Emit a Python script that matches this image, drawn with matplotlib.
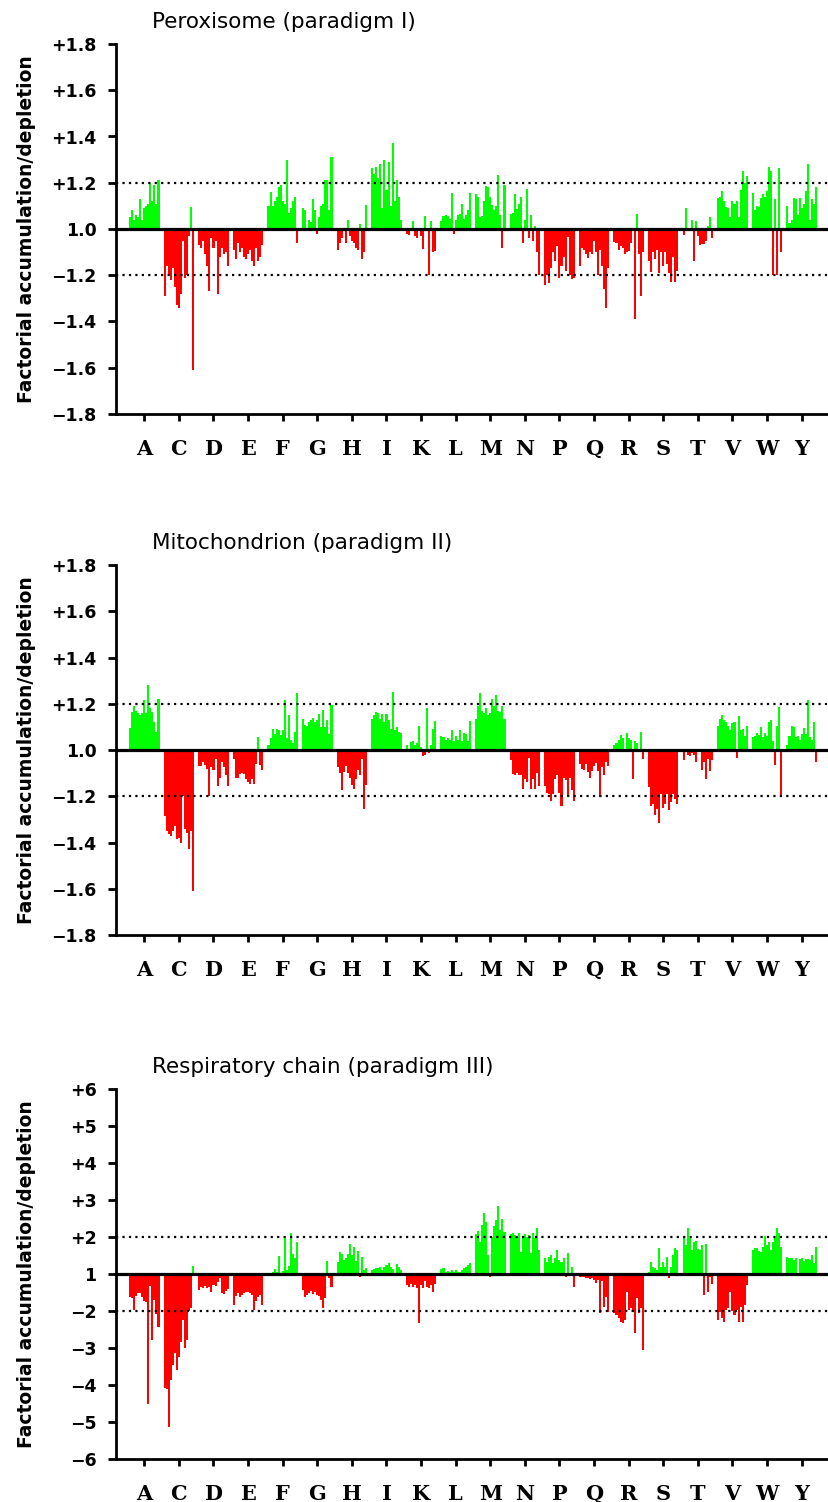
import matplotlib
matplotlib.use("Agg")
import matplotlib.pyplot as plt
import numpy as np

amino = ['A', 'C', 'D', 'E', 'F', 'G', 'H', 'I', 'K', 'L',
         'M', 'N', 'P', 'Q', 'R', 'S', 'T', 'V', 'W', 'Y']

# factorial accumulation (+) / depletion (-), 15 samples per amino acid
perox = [
    [1.05, 1.08, 1.04, 1.06, 1.05, 1.13, 1.04, 1.09, 1.10, 1.11, 1.20, 1.12, 1.19, 1.11, 1.21],
    [-1.29, -1.16, -1.20, -1.22, -1.17, -1.25, -1.33, -1.34, -1.28, -1.05, -1.21, -1.20, -1.03, 1.095, -1.61],
    [-1.07, -1.08, -1.05, -1.11, -1.16, -1.27, -1.04, -1.08, -1.05, -1.28, -1.12, -1.08, -1.11, -1.10, -1.16],
    [-1.09, -1.13, -1.06, -1.10, -1.08, -1.12, -1.13, -1.11, -1.09, -1.14, -1.16, -1.08, -1.14, -1.12, -1.07],
    [1.10, 1.16, 1.10, 1.12, 1.14, 1.18, 1.19, 1.12, 1.11, 1.30, 1.07, 1.09, 1.12, 1.14, -1.06],
    [1.09, 1.08, 1.005, 1.04, 1.03, 1.13, 1.08, -1.02, 1.05, 1.10, 1.11, 1.21, 1.21, 1.08, 1.31],
    [-1.09, -1.06, -1.04, -1.01, -1.06, 1.04, -1.03, -1.05, -1.06, -1.08, -1.09, 1.02, -1.13, -1.10, 1.105],
    [1.265, 1.24, 1.27, 1.22, 1.28, 1.09, 1.30, 1.17, 1.29, 1.10, 1.37, 1.12, 1.21, 1.14, 1.04],
    [-1.02, -1.025, -1.01, 1.035, -1.03, -1.04, 1.005, -1.03, -1.085, 1.055, -1.01, -1.20, 1.035, -1.10, -1.095],
    [1.035, 1.055, 1.06, 1.055, 1.045, 1.155, -1.02, 1.04, 1.06, 1.065, 1.11, 1.045, 1.06, 1.08, 1.155],
    [1.15, 1.14, 1.05, 1.055, 1.12, 1.185, 1.18, 1.14, 1.105, 1.08, 1.10, 1.235, 1.06, -1.08, 1.19],
    [1.065, 1.07, 1.15, 1.085, 1.11, 1.14, -1.06, 1.04, 1.175, -1.04, 1.06, -1.05, 1.015, -1.10, -1.20],
    [-1.24, -1.20, -1.235, -1.17, -1.10, -1.14, -1.075, -1.21, -1.16, -1.12, -1.18, -1.035, -1.20, -1.215, -1.21],
    [-1.16, -1.08, -1.09, -1.11, -1.125, -1.10, -1.11, -1.05, -1.10, -1.20, -1.09, -1.16, -1.26, -1.34, -1.17],
    [-1.055, -1.06, -1.09, -1.075, -1.08, -1.11, -1.10, -1.095, -1.06, -1.01, -1.39, 1.065, -1.11, -1.29, -1.10],
    [-1.14, -1.185, -1.10, -1.13, -1.09, -1.19, -1.10, -1.16, -1.10, -1.15, -1.19, -1.23, -1.12, -1.23, -1.18],
    [-1.025, 1.09, -1.005, -1.01, 1.04, -1.14, 1.035, -1.03, -1.07, -1.065, -1.065, -1.05, 1.015, 1.05, -1.04],
    [1.135, 1.14, 1.165, 1.12, 1.095, 1.09, 1.05, 1.12, 1.11, 1.12, 1.05, 1.17, 1.25, 1.20, 1.23],
    [1.155, 1.08, 1.10, 1.095, 1.135, 1.15, 1.14, 1.165, 1.27, 1.25, -1.20, 1.13, -1.20, 1.265, -1.10],
    [1.10, 1.025, 1.04, 1.135, 1.13, 1.06, 1.135, 1.09, 1.11, 1.165, 1.28, 1.04, 1.13, 1.11, 1.18],
]

mito = [
    [1.095, 1.165, 1.19, 1.17, 1.16, 1.15, 1.16, 1.215, 1.16, 1.28, 1.18, 1.165, 1.12, 1.08, 1.22],
    [-1.285, -1.35, -1.365, -1.37, -1.35, -1.33, -1.385, -1.38, -1.40, -1.20, -1.34, -1.36, -1.43, -1.35, -1.61],
    [-1.07, -1.07, -1.05, -1.065, -1.08, -1.20, -1.075, -1.085, -1.04, -1.155, -1.12, -1.05, -1.075, -1.11, -1.155],
    [-1.04, -1.12, -1.12, -1.105, -1.10, -1.105, -1.125, -1.14, -1.145, -1.125, -1.145, -1.06, 1.055, -1.065, -1.085],
    [1.02, 1.05, 1.09, 1.07, 1.09, 1.085, 1.065, 1.085, 1.215, 1.05, 1.15, 1.045, 1.03, 1.08, 1.245],
    [1.135, 1.11, 1.105, 1.12, 1.13, 1.14, 1.12, 1.13, 1.155, 1.10, 1.175, 1.10, 1.13, 1.07, 1.195],
    [-1.075, -1.10, -1.175, -1.095, -1.07, -1.10, -1.12, -1.15, -1.17, -1.125, -1.085, -1.11, -1.04, -1.255, -1.15],
    [1.135, 1.15, 1.165, 1.16, 1.135, 1.155, 1.12, 1.155, 1.13, 1.09, 1.25, 1.085, 1.10, 1.08, 1.075],
    [1.02, -1.01, 1.035, 1.04, 1.02, 1.03, 1.105, 1.015, -1.025, -1.02, 1.18, -1.015, 1.02, 1.09, 1.125],
    [1.06, 1.055, 1.045, 1.05, 1.045, 1.085, 1.04, 1.06, 1.045, 1.085, 1.04, 1.075, 1.07, 1.04, 1.125],
    [1.135, 1.19, 1.245, 1.17, 1.16, 1.18, 1.15, 1.16, 1.22, 1.19, 1.24, 1.17, 1.165, 1.19, 1.135],
    [-1.045, -1.105, -1.11, -1.10, -1.11, -1.11, -1.17, -1.125, -1.14, -1.035, -1.17, -1.125, -1.17, -1.10, -1.155],
    [-1.155, -1.185, -1.19, -1.22, -1.19, -1.125, -1.11, -1.185, -1.24, -1.12, -1.13, -1.20, -1.12, -1.175, -1.22],
    [-1.06, -1.08, -1.085, -1.06, -1.095, -1.12, -1.09, -1.07, -1.055, -1.09, -1.205, -1.075, -1.11, -1.05, -1.07],
    [1.02, 1.03, 1.045, 1.065, 1.05, -1.005, 1.075, 1.05, 1.045, -1.125, 1.04, 1.03, -1.01, 1.08, -1.04],
    [-1.16, -1.24, -1.235, -1.28, -1.255, -1.315, -1.19, -1.25, -1.235, -1.19, -1.26, -1.225, -1.19, -1.21, -1.235],
    [-1.045, 1.005, -1.02, -1.025, -1.015, -1.02, -1.05, -1.01, 1.005, -1.085, -1.05, -1.125, -1.04, -1.09, -1.045],
    [1.105, 1.135, 1.15, 1.13, 1.12, 1.105, 1.085, 1.115, 1.12, -1.035, 1.145, 1.085, 1.09, 1.06, 1.105],
    [1.055, 1.06, 1.075, 1.065, 1.10, 1.055, 1.075, 1.06, 1.12, 1.13, 1.04, -1.065, 1.105, 1.185, -1.205],
    [1.02, 1.06, 1.105, 1.10, 1.055, 1.06, 1.045, 1.07, 1.095, 1.07, 1.215, 1.055, 1.045, 1.12, -1.05],
]

resp = [
    [-1.61, -1.65, -1.97, -1.60, -1.50, -1.52, -1.63, -1.72, -1.75, -4.50, -1.33, -2.78, -1.70, -2.07, -2.42],
    [-4.09, -4.10, -5.13, -3.86, -3.46, -3.14, -3.59, -3.23, -2.83, -2.24, -3.00, -2.78, -2.00, -1.93, 1.22],
    [-1.43, -1.35, -1.37, -1.33, -1.37, -1.36, -1.48, -1.30, -1.33, -1.21, -1.10, -1.50, -1.55, -1.46, -1.40],
    [-1.84, -1.60, -1.52, -1.62, -1.56, -1.52, -1.49, -1.48, -1.52, -1.57, -1.97, -1.73, -1.62, -1.57, -1.84],
    [-1.01, -1.02, 1.06, 1.135, 1.05, 1.49, 1.04, 1.08, 1.96, 1.10, 1.22, 2.12, 1.53, 1.44, 1.87],
    [-1.43, -1.61, -1.57, -1.50, -1.45, -1.54, -1.48, -1.57, -1.60, -1.70, -1.93, -1.66, 1.36, -1.12, -1.34],
    [1.33, 1.59, 1.55, 1.38, 1.42, 1.53, 1.80, 1.51, 1.74, 1.35, 1.62, -1.07, 1.47, 1.12, 1.15],
    [1.11, 1.14, 1.15, 1.17, 1.20, 1.12, 1.20, 1.24, 1.29, 1.20, 1.13, -1.04, 1.27, 1.18, 1.10],
    [-1.30, -1.34, -1.26, -1.34, -1.30, -1.37, -2.33, -1.30, -1.39, -1.20, -1.36, -1.39, -1.30, -1.48, -1.27],
    [1.135, 1.17, 1.06, 1.08, 1.05, 1.11, 1.06, 1.11, 1.05, 1.06, 1.11, 1.15, 1.20, 1.24, 1.29],
    [2.07, 2.16, 1.87, 2.32, 2.64, 2.41, 1.51, -1.08, 2.00, 2.30, 2.46, 2.85, 2.19, 2.50, 2.14],
    [2.07, 2.10, 2.05, 2.01, 2.10, 1.59, 1.96, 2.07, 2.01, 2.05, 1.56, 2.10, 1.96, 2.25, 1.65],
    [1.44, 1.33, 1.47, 1.51, 1.29, 1.42, 1.65, 1.38, 1.33, 1.42, -1.07, 1.56, -1.03, 1.20, -1.34],
    [-1.07, -1.08, -1.07, -1.12, -1.10, -1.13, -1.11, -1.16, -1.25, -1.15, -2.06, -1.20, -1.88, -1.61, -2.02],
    [-2.06, -2.12, -2.20, -2.30, -2.32, -2.25, -1.48, -1.97, -1.93, -2.02, -2.60, -1.66, -2.06, -1.93, -3.05],
    [1.06, 1.32, 1.20, 1.17, 1.11, 1.69, 1.20, 1.33, 1.20, 1.47, -1.10, 1.20, 1.51, 1.69, 1.65],
    [2.01, 1.78, 2.25, 1.97, 1.65, 1.87, 1.89, 1.68, 1.65, 1.78, -1.57, 1.80, -1.48, -1.08, -1.28],
    [-2.24, -2.02, -2.20, -2.31, -1.97, -1.93, -1.48, -2.00, -2.11, -1.97, -2.29, -1.88, -2.29, -1.84, -1.30],
    [1.65, 1.69, 1.71, 1.62, 1.60, 1.74, 2.04, 1.78, 1.87, 1.65, 1.87, 1.96, 2.23, 2.10, 1.74],
    [1.47, 1.42, 1.44, 1.38, 1.42, 1.02, 1.41, 1.42, 1.35, 1.41, 1.40, 1.38, 1.51, 1.30, 1.74],
]

titles = ['Peroxisome (paradigm I)', 'Mitochondrion (paradigm II)',
          'Respiratory chain (paradigm III)']

small_ticks = ['+1.8', '+1.6', '+1.4', '+1.2', '1.0', '\u22121.2', '\u22121.4', '\u22121.6', '\u22121.8']
big_ticks = ['+6', '+5', '+4', '+3', '+2', '1', '\u22122', '\u22123', '\u22124', '\u22125', '\u22126']

W, H = 829, 1502
fig = plt.figure(figsize=(W / 100, H / 100), dpi=100)

panels = [
    (perox, 414, 0.8, 0.2, small_ticks, 0.2),
    (mito, 935, 0.8, 0.2, small_ticks, 0.2),
    (resp, 1459, 5.0, 1.0, big_ticks, 1.0),
]

group_w = 0.88
nbar = 15
bw = group_w / nbar

for k, (data, ybot, lim, step, tlabels, thr) in enumerate(panels):
    ax = fig.add_axes([116 / W, 1 - ybot / H, 1 - 116 / W, 370 / H])
    xs, ys, cols = [], [], []
    for i, grp in enumerate(data):
        for j, v in enumerate(grp):
            xs.append(i - group_w / 2 + (j + 0.5) * bw)
            y = np.sign(v) * (abs(v) - 1)
            ys.append(y)
            cols.append('#00ff00' if v > 0 else '#ff0000')
    ax.bar(xs, ys, width=bw, color=cols, linewidth=0, zorder=2)

    ax.axhline(0, color='black', lw=2.3, zorder=4)
    ax.axhline(thr, color='black', lw=1.6, ls=(0, (1, 1.9)), zorder=3)
    ax.axhline(-thr, color='black', lw=1.6, ls=(0, (1, 1.9)), zorder=3)

    ax.set_xlim(-0.818, 19.79)
    ax.set_ylim(-lim, lim)
    ticks = np.arange(lim, -lim - step / 2, -step)
    ax.set_yticks(ticks)
    ax.set_yticklabels(tlabels, fontsize=12.5, fontweight='bold', family='DejaVu Sans')
    ax.set_xticks(range(len(amino)))
    ax.set_xticklabels(amino, fontsize=15, fontweight='bold', family='DejaVu Serif')

    for s in ['top', 'right']:
        ax.spines[s].set_visible(False)
    for s in ['left', 'bottom']:
        ax.spines[s].set_linewidth(2)
    ax.tick_params(axis='y', direction='out', length=6, width=2, pad=8)
    ax.tick_params(axis='x', direction='out', length=5, width=2, pad=13)

    top_px = ybot - 370
    fig.text(152 / W, 1 - (top_px - 22) / H, titles[k], fontsize=15.5,
             ha='left', va='center')
    fig.text(27 / W, 1 - (ybot - 185) / H, 'Factorial accumulation/depletion',
             rotation=90, fontsize=13.5, fontweight='bold', ha='center', va='center')

fig.savefig('out.png', dpi=100)
